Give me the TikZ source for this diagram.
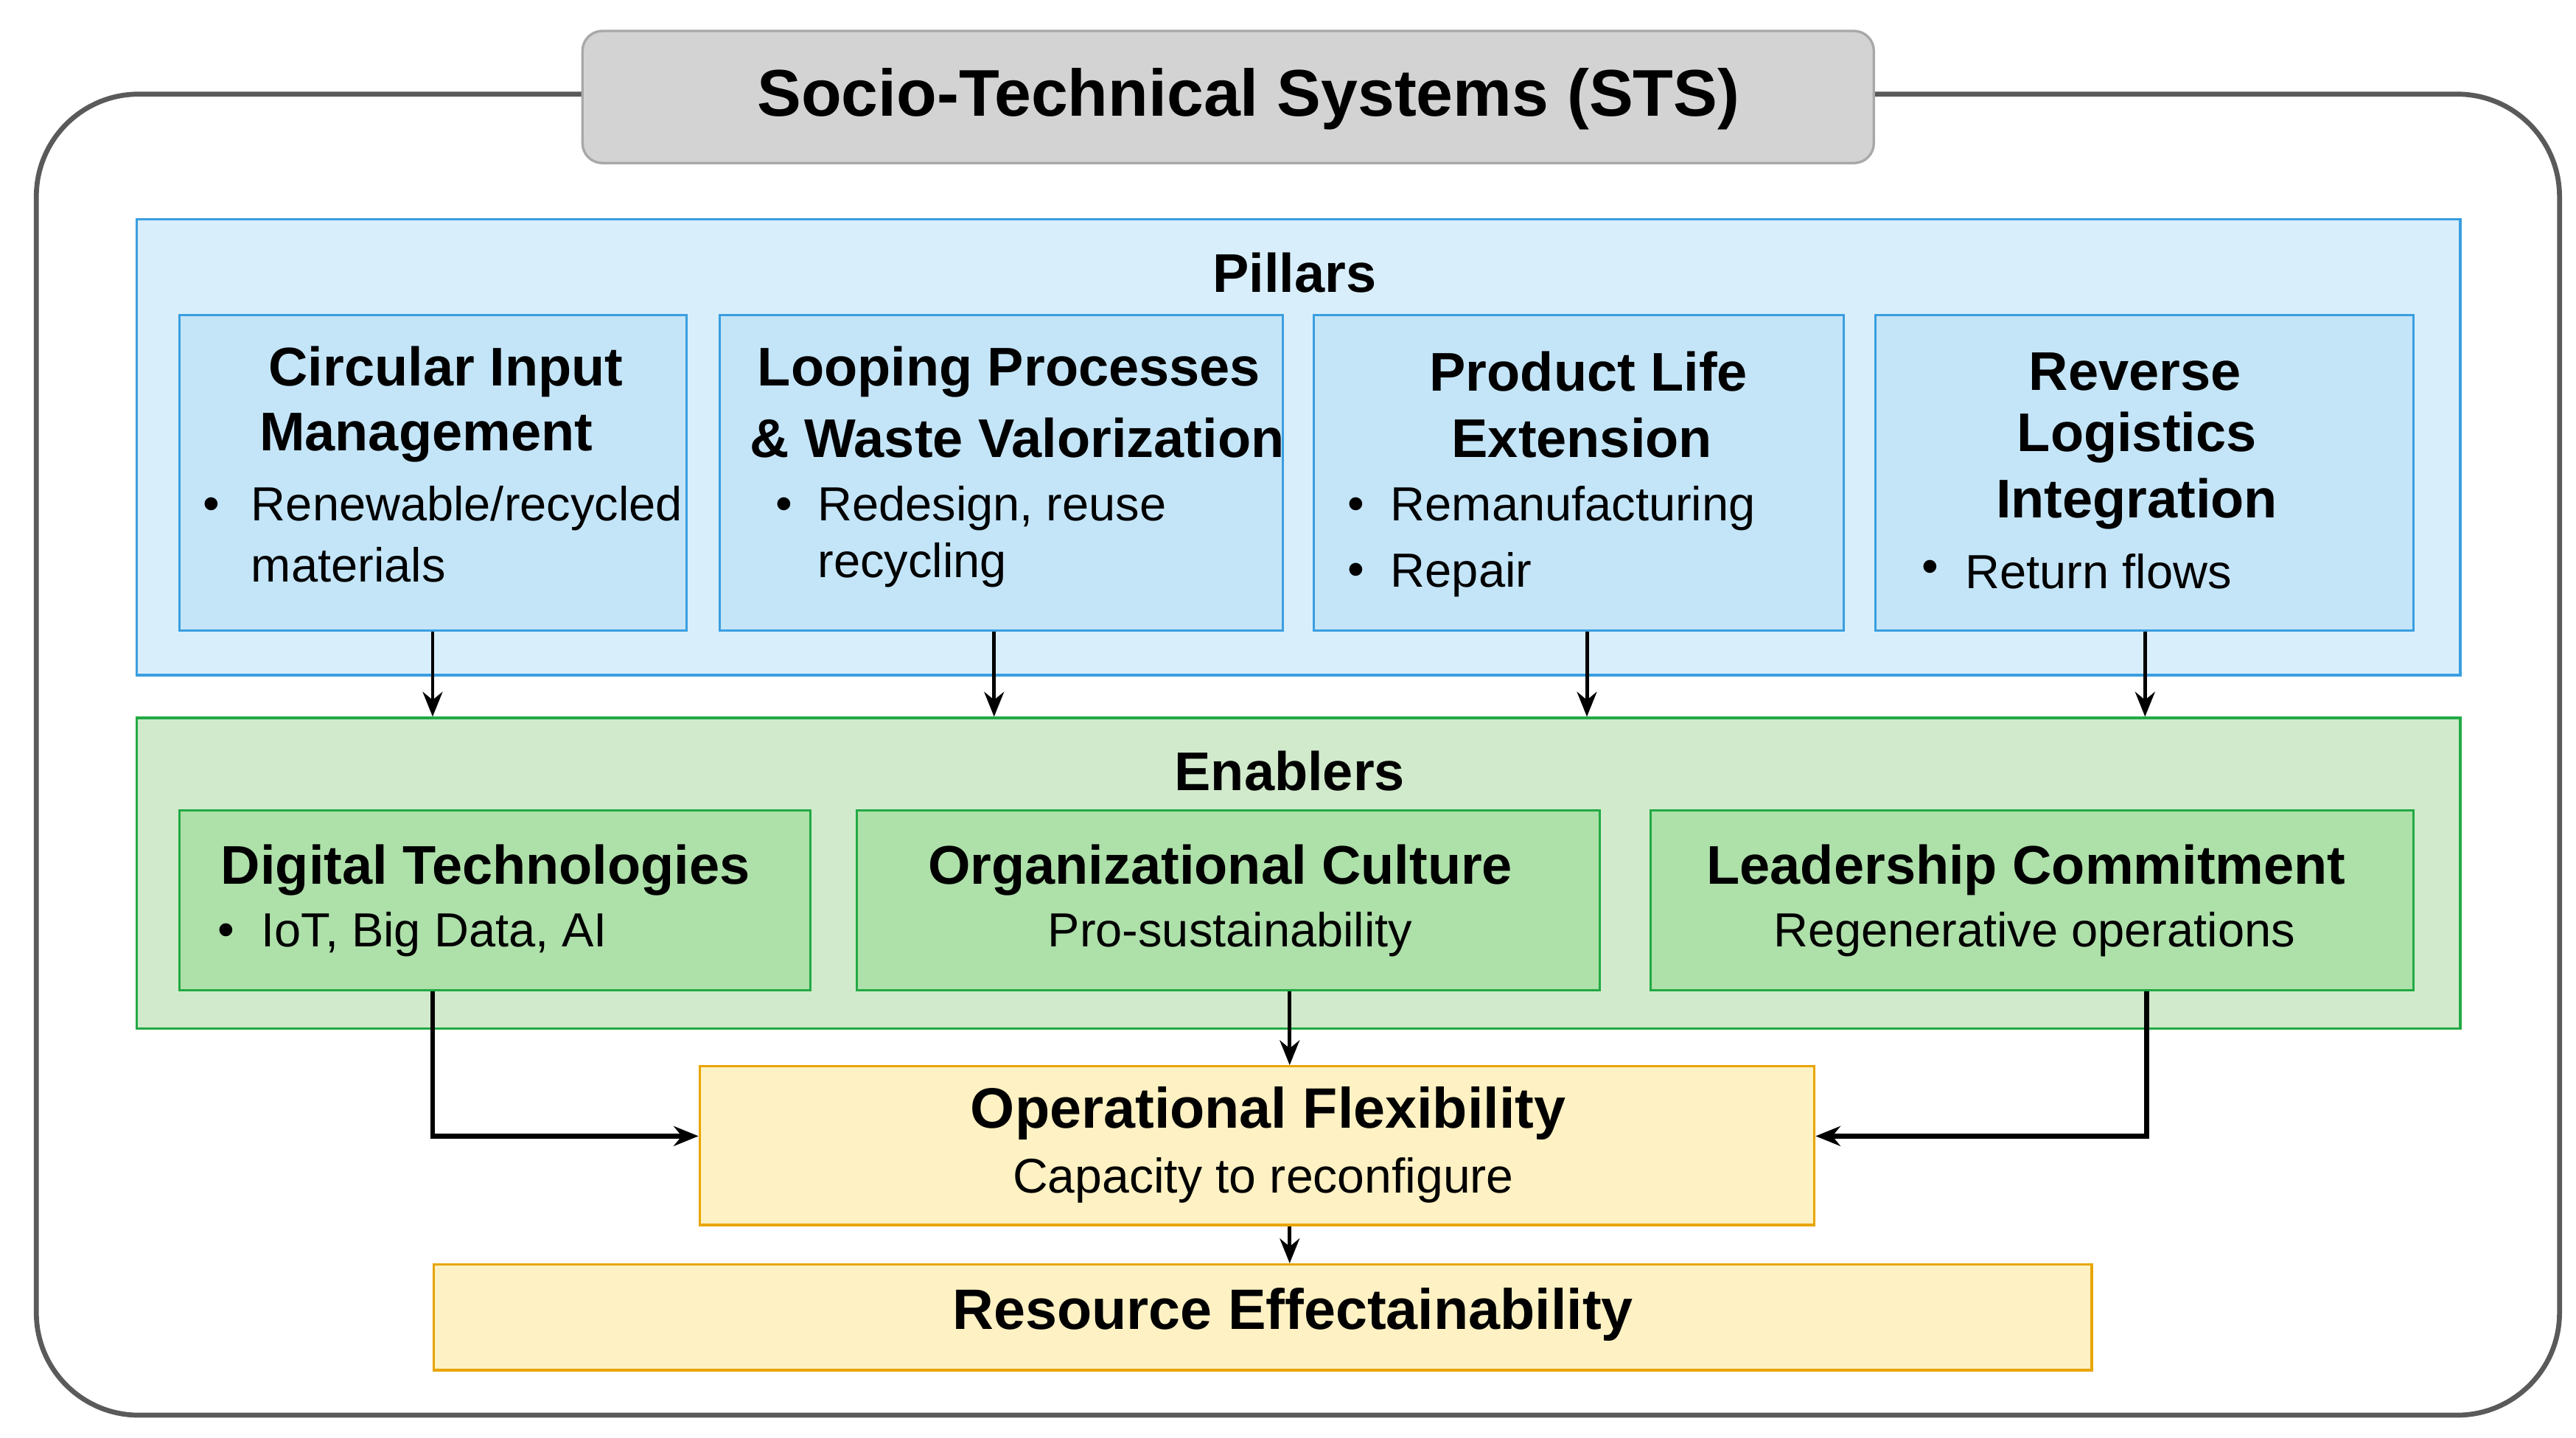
\documentclass[tikz,border=0pt]{standalone}
\usepackage{fontspec}
\setmainfont{Liberation Sans}
\usetikzlibrary{arrows.meta}
\definecolor{frameC}{HTML}{5A5A5A}
\definecolor{titleF}{HTML}{D3D3D3}
\definecolor{titleB}{HTML}{A8A8A8}
\definecolor{pilF}{HTML}{D8EEFB}
\definecolor{pilIn}{HTML}{C4E5F8}
\definecolor{pilB}{HTML}{3A9EE0}
\definecolor{enaF}{HTML}{D1EACC}
\definecolor{enaIn}{HTML}{AEE0AA}
\definecolor{enaB}{HTML}{22AA44}
\definecolor{yelF}{HTML}{FEF1C3}
\definecolor{yelB}{HTML}{E8A500}
\tikzset{
  box/.style={draw, inner sep=0pt, anchor=north west},
  head/.style={font=\fontsize{33}{40}\selectfont\bfseries, align=center, inner sep=0pt},
  body/.style={font=\fontsize{29}{34}\selectfont, inner sep=0pt},
  conn/.style={-{Stealth[length=15pt,width=12pt]}, line width=2.2pt, black},
  connh/.style={conn, line width=3pt},
}
\newcommand{\bul}{\textbullet}
\begin{document}
\begin{tikzpicture}[x=1pt,y=-1pt]
\useasboundingbox (0,0) rectangle (1560,870.4);
% outer frame
\draw[frameC, line width=3pt, rounded corners=62pt] (22,57) rectangle (1550,857);
% title
\node[box, fill=titleF, draw=titleB, line width=1.5pt, rounded corners=12pt, minimum width=782pt, minimum height=80pt] (tbox) at (352,18) {};
\node[font=\fontsize{40}{48}\selectfont\bfseries, inner sep=0pt] (title) at (756,60) {Socio-Technical Systems (STS)};
% pillars group
\node[box, fill=pilF, draw=pilB, line width=1.6pt, minimum width=1407pt, minimum height=276pt] (pil) at (82,132) {};
\node[head] (pilt) at (784,165) {Pillars};
\node[box, fill=pilIn, draw=pilB, line width=1.4pt, minimum width=307pt, minimum height=191pt] (p1) at (108,190) {};
\node[box, fill=pilIn, draw=pilB, line width=1.4pt, minimum width=341pt, minimum height=191pt] (p2) at (435,190) {};
\node[box, fill=pilIn, draw=pilB, line width=1.4pt, minimum width=321pt, minimum height=191pt] (p3) at (795,190) {};
\node[box, fill=pilIn, draw=pilB, line width=1.4pt, minimum width=326pt, minimum height=191pt] (p4) at (1135,190) {};
% pillar texts
\node[head] (p1h1) at (270,225) {Circular Input};
\node[head] (p1h2) at (258,265) {Management};
\node[body] (p1b) at (128,308) {\bul};
\node[body, anchor=west] (p1l1) at (152,308) {Renewable/recycled};
\node[body, anchor=west] (p1l2) at (152,342) {materials};
\node[head] (p2h1) at (611,225) {Looping Processes};
\node[head] (p2h2) at (616,265) {\& Waste Valorization};
\node[body] (p2b) at (475,308) {\bul};
\node[body, anchor=west] (p2l1) at (495,308) {Redesign, reuse};
\node[body, anchor=west] (p2l2) at (495,342) {recycling};
\node[head] (p3h1) at (962,225) {Product Life};
\node[head] (p3h2) at (958,265) {Extension};
\node[body] (p3b1) at (821,308) {\bul};
\node[body, anchor=west] (p3l1) at (842,308) {Remanufacturing};
\node[body] (p3b2) at (821,348) {\bul};
\node[body, anchor=west] (p3l2) at (842,348) {Repair};
\node[head] (p4h1) at (1293,225) {Reverse};
\node[head] (p4h2) at (1294,265) {Logistics};
\node[head] (p4h3) at (1294,305) {Integration};
\node[body] (p4b) at (1169,346) {\bul};
\node[body, anchor=west] (p4l1) at (1190,346) {Return flows};
% enablers group
\node[box, fill=enaF, draw=enaB, line width=1.6pt, minimum width=1407pt, minimum height=188pt] (ena) at (82,434) {};
\node[head] (enat) at (781,467) {Enablers};
\node[box, fill=enaIn, draw=enaB, line width=1.4pt, minimum width=382pt, minimum height=109pt] (e1) at (108,490) {};
\node[box, fill=enaIn, draw=enaB, line width=1.4pt, minimum width=450pt, minimum height=109pt] (e2) at (518,490) {};
\node[box, fill=enaIn, draw=enaB, line width=1.4pt, minimum width=462pt, minimum height=109pt] (e3) at (999,490) {};
\node[head] (e1h) at (294,527) {Digital Technologies};
\node[body] (e1b) at (137,566) {\bul};
\node[body, anchor=west] (e1l) at (158,566) {IoT, Big Data, AI};
\node[head] (e2h) at (739,527) {Organizational Culture};
\node[body] (e2l) at (745,566) {Pro-sustainability};
\node[head] (e3h) at (1227,527) {Leadership Commitment};
\node[body] (e3l) at (1232,566) {Regenerative operations};
% outcomes
\node[box, fill=yelF, draw=yelB, line width=1.5pt, minimum width=675pt, minimum height=96pt] (op) at (423,645) {};
\node[font=\fontsize{34.5}{42}\selectfont\bfseries, inner sep=0pt] (oph) at (768,674) {Operational Flexibility};
\node[font=\fontsize{29.5}{36}\selectfont, inner sep=0pt] (opl) at (765,715) {Capacity to reconfigure};
\node[box, fill=yelF, draw=yelB, line width=1.5pt, minimum width=1004pt, minimum height=64pt] (res) at (262,765) {};
\node[font=\fontsize{34.5}{42}\selectfont\bfseries, inner sep=0pt] (resh) at (783,796) {Resource Effectainability};
% connectors
\coordinate (hy) at (0,688);
\draw[conn] (p1.south -| 262,0) -- (ena.north -| 262,0);
\draw[conn] (p2.south -| 602,0) -- (ena.north -| 602,0);
\draw[conn] (p3.south -| 961,0) -- (ena.north -| 961,0);
\draw[conn] (p4.south -| 1299,0) -- (ena.north -| 1299,0);
\draw[conn] (e2.south -| 781,0) -- (op.north -| 781,0);
\draw[connh] (e1.south -| 262,0) |- (op.west |- hy);
\draw[connh] (e3.south -| 1300,0) |- (op.east |- hy);
\draw[conn] (op.south -| 781,0) -- (res.north -| 781,0);
\end{tikzpicture}
\end{document}
